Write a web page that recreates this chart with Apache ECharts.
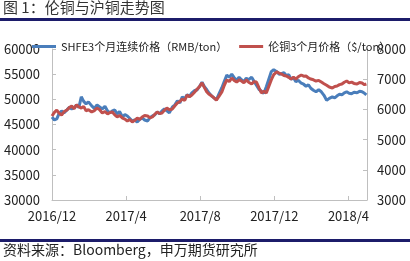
<!DOCTYPE html>
<html>
<head>
<meta charset="utf-8">
<script src="https://cdn.jsdelivr.net/npm/echarts@6/dist/echarts.min.js"></script>
<style>
html,body{margin:0;padding:0;background:#fff;}
#c{width:410px;height:261px;}
</style>
</head>
<body>
<div id="c"></div>
<script>
var dates = ["2016-12-01","2016-12-05","2016-12-09","2016-12-13","2016-12-17","2016-12-21","2016-12-26","2016-12-30",
"2017-01-03","2017-01-07","2017-01-11","2017-01-15","2017-01-19","2017-01-23","2017-01-27","2017-01-31",
"2017-02-05","2017-02-09","2017-02-13","2017-02-17","2017-02-21","2017-02-25","2017-03-01","2017-03-05",
"2017-03-09","2017-03-13","2017-03-17","2017-03-21","2017-03-26","2017-03-30","2017-04-03","2017-04-07",
"2017-04-11","2017-04-15","2017-04-19","2017-04-23","2017-04-27","2017-05-01","2017-05-06","2017-05-10",
"2017-05-14","2017-05-18","2017-05-22","2017-05-26","2017-05-30","2017-06-03","2017-06-07","2017-06-11",
"2017-06-16","2017-06-20","2017-06-24","2017-06-28","2017-07-02","2017-07-06","2017-07-10","2017-07-14",
"2017-07-18","2017-07-22","2017-07-27","2017-07-31","2017-08-04","2017-08-08","2017-08-12","2017-08-16",
"2017-08-20","2017-08-24","2017-08-28","2017-09-01","2017-09-06","2017-09-10","2017-09-14","2017-09-18",
"2017-09-22","2017-09-26","2017-09-30","2017-10-04","2017-10-08","2017-10-12","2017-10-16","2017-10-20",
"2017-10-25","2017-10-29","2017-11-02","2017-11-06","2017-11-10","2017-11-14","2017-11-18","2017-11-22",
"2017-11-26","2017-11-30","2017-12-05","2017-12-09","2017-12-13","2017-12-17","2017-12-21","2017-12-25",
"2017-12-29","2018-01-02","2018-01-06","2018-01-10","2018-01-15","2018-01-19","2018-01-23","2018-01-27",
"2018-01-31","2018-02-04","2018-02-08","2018-02-12","2018-02-16","2018-02-20","2018-02-24","2018-02-28",
"2018-03-05","2018-03-09","2018-03-13","2018-03-17","2018-03-21","2018-03-25","2018-03-29","2018-04-02",
"2018-04-06","2018-04-10","2018-04-15","2018-04-19","2018-04-23","2018-04-27","2018-04-30"];
var shfe = [46500,45900,46100,47200,47700,47300,47900,48400,48100,48300,48900,48400,50500,49600,49100,49500,
48700,48200,48900,48500,48100,48600,47700,47300,47700,47900,47100,47600,46500,47000,46700,46200,
45700,45900,45500,46000,46300,45900,45700,46400,46700,46900,47500,47100,47700,48100,47700,47300,
48500,48900,49700,49300,50500,50100,50900,50600,51300,51700,51900,52600,53400,52500,51900,51200,
50700,50300,49900,51000,52300,53600,54800,54400,55000,54300,53800,54400,53900,53500,54200,53900,
54400,53600,52800,52000,51600,51200,52500,54000,55500,55900,55500,55000,55100,55300,54700,54900,
54000,54300,53500,53800,53200,53000,52600,52900,52200,51800,51500,51900,51500,50800,49800,50200,
50500,50300,50700,51000,50900,51300,51500,51200,51100,51400,51300,51600,51500,51200,50900];
var lme = [5780,5900,5980,5870,5815,5920,5980,6060,6110,6020,6150,6080,6045,6100,5950,5990,
5915,5960,6045,5990,5880,5930,5850,5900,5915,5820,5750,5800,5715,5680,5615,5660,
5585,5640,5715,5670,5750,5800,5780,5720,5750,5840,5915,5860,5880,5970,6045,5990,
6015,6120,6210,6260,6345,6300,6475,6420,6475,6560,6675,6760,6875,6720,6575,6500,
6445,6380,6310,6420,6580,6800,6975,6920,7040,6960,6905,6980,6940,6880,6975,6900,
6840,6920,6905,6720,6545,6600,6545,6760,6975,7150,7240,7200,7170,7120,7105,7060,
7005,7070,7005,7080,7140,7100,7105,7040,7005,6980,6940,6960,6905,6850,6800,6740,
6710,6760,6775,6820,6840,6900,6940,6880,6905,6860,6840,6890,6875,6820,6840];
var xTickMonths = [0,4,8,12,16];
var xTickLabels = ["2016/12","2017/4","2017/8","2017/12","2018/4"];
var leftTicks = [30000,35000,40000,45000,50000,55000,60000];
var rightTicks = [3000,4000,5000,6000,7000,8000];
var seriesNames = ["SHFE3个月连续价格（RMB/ton）","伦铜3个月价格（$/ton）"];

function monthIndex(s){
  var p = s.split("-").map(Number);
  var dim = new Date(p[0], p[1], 0).getDate();
  return (p[0]-2016)*12 + (p[1]-12) + (p[2]-1)/dim;
}
var shfeData = dates.map(function(d,i){return [monthIndex(d), shfe[i]];});
var lmeData = dates.map(function(d,i){return [monthIndex(d), lme[i]];});

var font = "'Noto Sans CJK SC', 'Liberation Sans', sans-serif";
var plain = function(v){return String(v);};
var chart = echarts.init(document.getElementById('c'), null, {renderer:'canvas'});
chart.setOption({
  animation:false,
  textStyle:{fontFamily:font},
  grid:{left:52, right:43, top:49, bottom:61, containLabel:false},
  legend:{
    top:36, left:27, itemGap:12, itemWidth:24, itemHeight:3, icon:'rect',
    textStyle:{fontSize:11, color:'#222', fontFamily:font},
    data:seriesNames
  },
  xAxis:{
    type:'value', min:0, max:17,
    axisLine:{lineStyle:{color:'#bfbfbf'}},
    axisTick:{inside:true, length:4, lineStyle:{color:'#bfbfbf'}, customValues:xTickMonths},
    axisLabel:{customValues:xTickMonths, color:'#222', fontSize:13, margin:10,
      formatter:function(v){var i=xTickMonths.indexOf(v);return i>=0?xTickLabels[i]:'';}},
    splitLine:{show:false}
  },
  yAxis:[{
    type:'value', min:leftTicks[0], max:leftTicks[leftTicks.length-1], interval:5000,
    axisLine:{show:true, lineStyle:{color:'#bfbfbf'}},
    axisTick:{show:true, inside:true, length:4, lineStyle:{color:'#bfbfbf'}},
    axisLabel:{color:'#222', fontSize:13, margin:12, formatter:plain},
    splitLine:{show:false}
  },{
    type:'value', min:rightTicks[0], max:rightTicks[rightTicks.length-1], interval:1000,
    axisLine:{show:true, lineStyle:{color:'#bfbfbf'}},
    axisTick:{show:true, inside:true, length:4, lineStyle:{color:'#bfbfbf'}},
    axisLabel:{color:'#222', fontSize:13, margin:10, formatter:plain},
    splitLine:{show:false}
  }],
  series:[{
    name:seriesNames[0], type:'line', yAxisIndex:0, data:shfeData, showSymbol:false,
    lineStyle:{color:'#4a7ebb', width:3}, itemStyle:{color:'#4a7ebb'}
  },{
    name:seriesNames[1], type:'line', yAxisIndex:1, data:lmeData, showSymbol:false,
    lineStyle:{color:'#c0504d', width:3}, itemStyle:{color:'#c0504d'}
  }],
  graphic:[
    {type:'text', left:3, top:0, style:{text:'图 1：伦铜与沪铜走势图', font:"15px 'Noto Sans CJK SC'", fill:'#333'}},
    {type:'rect', shape:{x:0, y:18, width:410, height:3}, style:{fill:'#1c1c6a'}},
    {type:'rect', shape:{x:0, y:239, width:410, height:3}, style:{fill:'#1c1c6a'}},
    {type:'text', left:3, top:243, style:{text:'资料来源：Bloomberg，申万期货研究所', font:"14px 'Noto Sans CJK SC'", fill:'#222'}}
  ]
});
</script>
</body>
</html>
